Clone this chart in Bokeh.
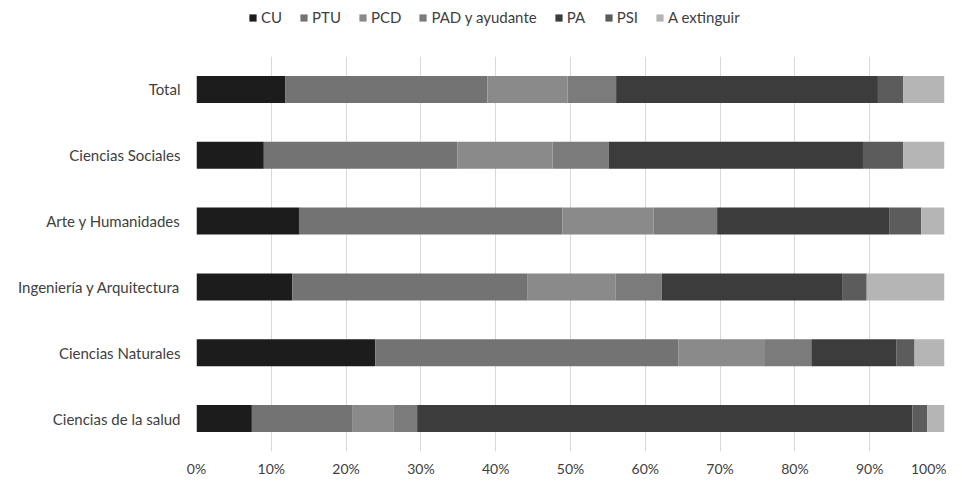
from bokeh.plotting import figure
from bokeh.layouts import column
from bokeh.models import Legend, LegendItem, FactorRange, Range1d, FixedTicker, NumeralTickFormatter, ColumnDataSource
from bokeh.embed import file_html
from bokeh.resources import INLINE

categories = ["Total", "Ciencias Sociales", "Arte y Humanidades", "Ingeniería y Arquitectura",
              "Ciencias Naturales", "Ciencias de la salud"]
series = ["CU", "PTU", "PCD", "PAD y ayudante", "PA", "PSI", "A extinguir"]
CU = [11.9, 9.0, 13.7, 12.8, 23.9, 7.4]
PTU = [27.0, 25.9, 35.2, 31.4, 40.5, 13.4]
PCD = [10.7, 12.7, 12.2, 11.8, 11.6, 5.5]
PAD = [6.5, 7.5, 8.5, 6.2, 6.2, 3.2]
PA = [35.0, 34.0, 23.0, 24.2, 11.4, 66.2]
PSI = [3.4, 5.4, 4.3, 3.2, 2.4, 2.0]
EXT = [5.5, 5.5, 3.1, 10.4, 4.0, 2.3]
colors = ["#1c1c1c", "#737373", "#8a8a8a", "#7b7b7b", "#3c3c3c", "#5c5c5c", "#b5b5b5"]
x_ticks = [0, 10, 20, 30, 40, 50, 60, 70, 80, 90, 100]

vals = [CU, PTU, PCD, PAD, PA, PSI, EXT]
data = {"cat": categories}
for name, v in zip(series, vals):
    data[name] = [x / 100.0 for x in v]

src = ColumnDataSource(data)

# ---- main chart ----
p = figure(width=946, height=445, output_backend="svg", toolbar_location=None,
           y_range=FactorRange(*categories[::-1]), x_range=Range1d(0, 1),
           min_border_left=196, min_border_right=2, min_border_top=22, min_border_bottom=18)

renderers = p.hbar_stack(series, y="cat", height=0.41, color=colors, source=src, line_width=0)

p.outline_line_color = None
p.ygrid.grid_line_color = None
p.xgrid.grid_line_color = "#d9d9d9"
p.xgrid.grid_line_width = 1

p.xaxis.ticker = FixedTicker(ticks=[t / 100.0 for t in x_ticks])
p.xaxis.formatter = NumeralTickFormatter(format="0%")
for ax in (p.xaxis, p.yaxis):
    ax.axis_line_color = None
    ax.major_tick_line_color = None
    ax.minor_tick_line_color = None
    ax.major_label_text_font = "Lato"
    ax.major_label_text_color = "#404040"
p.yaxis.major_label_text_font_size = "15px"
p.xaxis.major_label_text_font_size = "14px"
p.yaxis.major_label_standoff = 10
p.xaxis.major_label_standoff = 2

# ---- legend strip ----
lg = figure(width=946, height=34, output_backend="svg", toolbar_location=None,
            x_range=Range1d(0, 1), y_range=Range1d(0, 1),
            x_axis_location=None, y_axis_location=None,
            min_border_left=0, min_border_right=0, min_border_top=0, min_border_bottom=0)
lg.outline_line_color = None
lg.grid.visible = False
dummy = ColumnDataSource({"y": [-5.0], "l": [-5.0], "r": [-4.0]})
leg_renderers = [lg.hbar(y="y", left="l", right="r", height=0.5, color=c, source=dummy, line_width=0)
                 for c in colors]

items = [LegendItem(label=n, renderers=[r]) for n, r in zip(series, leg_renderers)]
legend = Legend(items=items, orientation="horizontal", location=(52, 8),
                glyph_width=9, glyph_height=9, label_standoff=4, spacing=17,
                label_text_font="Lato", label_text_font_size="15px", label_text_color="#404040",
                border_line_color=None, background_fill_alpha=0, padding=2, margin=0)
lg.add_layout(legend, "center")

layout = column(lg, p, spacing=0)
open("out.html", "w").write(file_html(layout, INLINE))
